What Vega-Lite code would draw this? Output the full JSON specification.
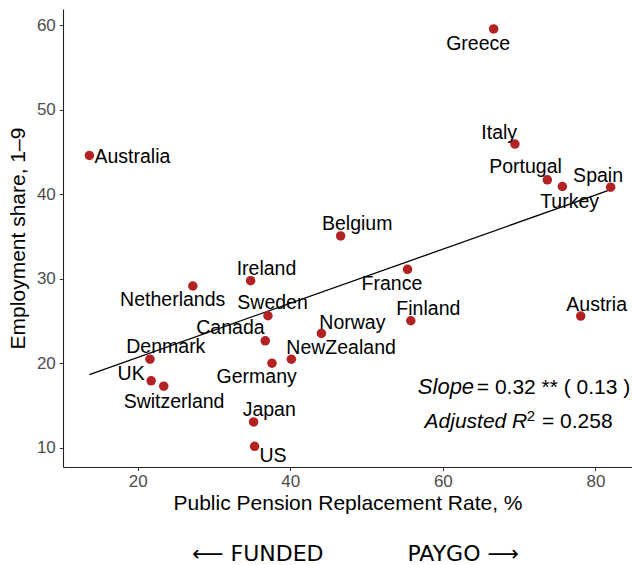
{
  "$schema": "https://vega.github.io/schema/vega-lite/v6.json",
  "width": 569,
  "height": 458,
  "autosize": {"type": "none"},
  "padding": {"left": 63, "top": 9, "right": 0, "bottom": 98},
  "background": "white",
  "title": {
    "text": "\u27f5 FUNDED\u00a0\u00a0\u00a0\u00a0\u00a0\u00a0\u00a0\u00a0\u00a0\u00a0\u00a0\u00a0PAYGO \u27f6",
    "orient": "bottom",
    "anchor": "middle",
    "font": "DejaVu Sans",
    "fontSize": 22,
    "fontWeight": "normal",
    "color": "black",
    "offset": 30,
    "dx": 8
  },
  "datasets": {
    "pts": [
      {"country": "Greece", "x": 66.66, "y": 59.57, "lx": 64.63, "ly": 57.08},
      {"country": "Italy", "x": 69.45, "y": 45.95, "lx": 67.39, "ly": 46.51},
      {"country": "Portugal", "x": 73.7, "y": 41.72, "lx": 70.84, "ly": 42.55},
      {"country": "Turkey", "x": 75.67, "y": 40.93, "lx": 76.62, "ly": 38.34},
      {"country": "Spain", "x": 82.0, "y": 40.85, "lx": 80.35, "ly": 41.49},
      {"country": "Belgium", "x": 46.6, "y": 35.08, "lx": 48.77, "ly": 35.77},
      {"country": "France", "x": 55.37, "y": 31.14, "lx": 53.33, "ly": 28.67},
      {"country": "Australia", "x": 13.66, "y": 44.6, "lx": 19.3, "ly": 43.66},
      {"country": "Ireland", "x": 34.8, "y": 29.79, "lx": 36.88, "ly": 30.44},
      {"country": "Netherlands", "x": 27.22, "y": 29.16, "lx": 24.58, "ly": 26.81},
      {"country": "Sweden", "x": 37.07, "y": 25.64, "lx": 37.67, "ly": 26.5},
      {"country": "Canada", "x": 36.72, "y": 22.68, "lx": 32.15, "ly": 23.46},
      {"country": "Denmark", "x": 21.6, "y": 20.51, "lx": 23.68, "ly": 21.25},
      {"country": "UK", "x": 21.76, "y": 17.94, "lx": 19.13, "ly": 18.1},
      {"country": "Switzerland", "x": 23.41, "y": 17.31, "lx": 24.76, "ly": 14.78},
      {"country": "Germany", "x": 37.6, "y": 20.03, "lx": 35.59, "ly": 17.69},
      {"country": "NewZealand", "x": 40.14, "y": 20.51, "lx": 46.66, "ly": 21.09},
      {"country": "Japan", "x": 35.19, "y": 13.08, "lx": 37.24, "ly": 13.79},
      {"country": "US", "x": 35.32, "y": 10.2, "lx": 37.74, "ly": 8.34},
      {"country": "Norway", "x": 44.08, "y": 23.55, "lx": 48.14, "ly": 24.13},
      {"country": "Finland", "x": 55.8, "y": 25.05, "lx": 58.1, "ly": 25.71},
      {"country": "Austria", "x": 78.08, "y": 25.6, "lx": 80.17, "ly": 26.22}
    ],
    "fit": [
      {"x": 13.66, "y": 18.69},
      {"x": 82.0, "y": 40.56}
    ]
  },
  "config": {
    "view": {"stroke": null},
    "axis": {
      "grid": false,
      "domainColor": "#222222",
      "domainWidth": 1.1,
      "tickColor": "#333333",
      "tickSize": 3.7,
      "tickWidth": 1,
      "labelColor": "#4d4d4d",
      "labelFont": "Liberation Sans",
      "labelFontSize": 17,
      "titleFont": "Liberation Sans",
      "titleFontSize": 21,
      "titleFontWeight": "normal",
      "titleColor": "black"
    },
    "axisX": {"labelPadding": 3, "titlePadding": 3},
    "axisY": {"labelPadding": 4, "titlePadding": 8}
  },
  "layer": [
    {
      "data": {"name": "fit"},
      "mark": {"type": "line", "color": "black", "strokeWidth": 1.3},
      "encoding": {
        "x": {"field": "x", "type": "quantitative", "scale": {"domain": [10.2, 84.8], "nice": false, "zero": false}, "axis": {"values": [20, 40, 60, 80]}, "title": "Public Pension Replacement Rate, %"},
        "y": {"field": "y", "type": "quantitative", "scale": {"domain": [7.75, 61.93], "nice": false, "zero": false}, "axis": {"values": [10, 20, 30, 40, 50, 60]}, "title": "Employment share, 1\u20139"}
      }
    },
    {
      "data": {"name": "pts"},
      "mark": {"type": "circle", "size": 90, "color": "#B22222", "opacity": 1},
      "encoding": {
        "x": {"field": "x", "type": "quantitative", "title": "Public Pension Replacement Rate, %"},
        "y": {"field": "y", "type": "quantitative", "title": "Employment share, 1\u20139"}
      }
    },
    {
      "data": {"name": "pts"},
      "mark": {"type": "text", "font": "Liberation Sans", "fontSize": 19.5, "color": "black", "align": "center", "baseline": "alphabetic"},
      "encoding": {
        "x": {"field": "lx", "type": "quantitative", "title": "Public Pension Replacement Rate, %"},
        "y": {"field": "ly", "type": "quantitative", "title": "Employment share, 1\u20139"},
        "text": {"field": "country"}
      }
    },
    {
      "data": {"values": [{"x": 64.1, "y": 16.36, "t": "Slope"}]},
      "mark": {"type": "text", "font": "Liberation Sans", "fontSize": 22, "fontStyle": "italic", "color": "black", "align": "right", "baseline": "alphabetic"},
      "encoding": {
        "x": {"field": "x", "type": "quantitative", "title": "Public Pension Replacement Rate, %"},
        "y": {"field": "y", "type": "quantitative", "title": "Employment share, 1\u20139"},
        "text": {"field": "t"}
      }
    },
    {
      "data": {"values": [{"x": 64.45, "y": 16.36, "t": "= 0.32 ** ( 0.13 )"}, {"x": 73.0, "y": 12.41, "t": "= 0.258"}]},
      "mark": {"type": "text", "font": "Liberation Sans", "fontSize": 21, "color": "black", "align": "left", "baseline": "alphabetic"},
      "encoding": {
        "x": {"field": "x", "type": "quantitative", "title": "Public Pension Replacement Rate, %"},
        "y": {"field": "y", "type": "quantitative", "title": "Employment share, 1\u20139"},
        "text": {"field": "t"}
      }
    },
    {
      "data": {"values": [{"x": 57.6, "y": 12.41, "t": "Adjusted R"}]},
      "mark": {"type": "text", "font": "Liberation Sans", "fontSize": 21, "fontStyle": "italic", "color": "black", "align": "left", "baseline": "alphabetic"},
      "encoding": {
        "x": {"field": "x", "type": "quantitative", "title": "Public Pension Replacement Rate, %"},
        "y": {"field": "y", "type": "quantitative", "title": "Employment share, 1\u20139"},
        "text": {"field": "t"}
      }
    },
    {
      "data": {"values": [{"x": 71.0, "y": 13.2, "t": "2"}]},
      "mark": {"type": "text", "font": "Liberation Sans", "fontSize": 15, "color": "black", "align": "left", "baseline": "alphabetic"},
      "encoding": {
        "x": {"field": "x", "type": "quantitative", "title": "Public Pension Replacement Rate, %"},
        "y": {"field": "y", "type": "quantitative", "title": "Employment share, 1\u20139"},
        "text": {"field": "t"}
      }
    }
  ]
}
